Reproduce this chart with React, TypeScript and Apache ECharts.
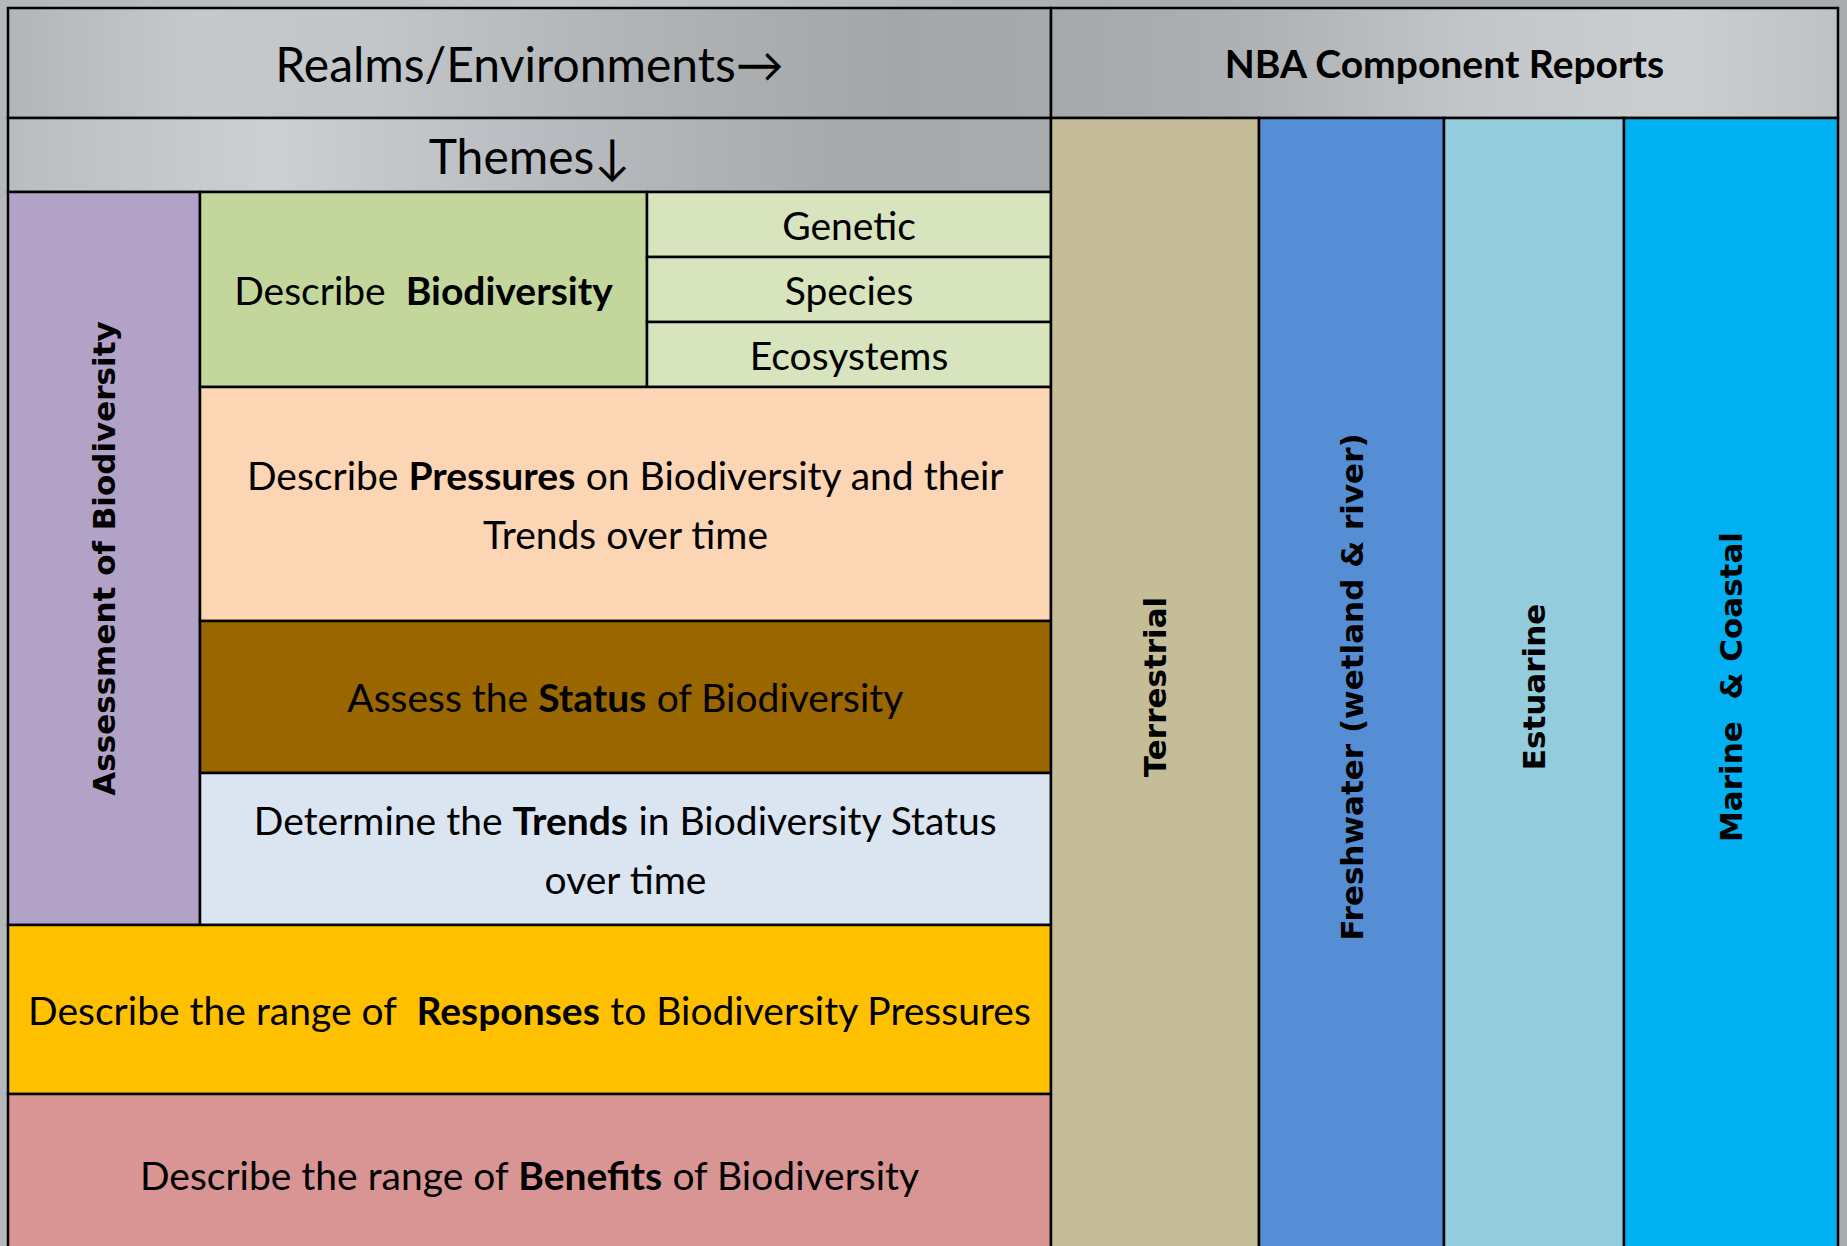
import React, { useEffect, useRef } from "react";
import * as echarts from "echarts";

// ---- Data (labels) ----
const headerLabels = ["Realms/Environments→", "Themes↓", "NBA Component Reports"];
const assessmentLabel = "Assessment of Biodiversity";
const biodiversityLabel = "Describe  {b|Biodiversity}";
const biodiversityLevels = ["Genetic", "Species", "Ecosystems"];
const themeLabels = [
  "Describe {b|Pressures} on Biodiversity and their\nTrends over time",
  "Assess the {b|Status} of Biodiversity",
  "Determine the {b|Trends} in Biodiversity Status\nover time",
];
const outcomeLabels = [
  "Describe the range of  {b|Responses} to Biodiversity Pressures",
  "Describe the range of {b|Benefits} of Biodiversity",
];
const realmLabels = ["Terrestrial", "Freshwater (wetland & river)", "Estuarine", "Marine  & Coastal"];

// ---- Layout (diagram units = px) ----
const W = 1847;
const H = 1246;
const colX = { left: 8, purple: 200, green: 647, mid: 1051, right: 1838 };
const realmEdges = [1051, 1259, 1444, 1624, 1838];
const rowY = { top: 8, head: 118, themes: 192, levels: [192, 257, 322, 387], pressures: 621, status: 773, trends: 925, responses: 1094, bottom: 1256 };

// ---- Styles ----
const themeFills = ["#fcd5b5", "#996600", "#dbe5f1"];
const outcomeFills = ["#ffc000", "#d99594"];
const realmFills = ["#c4bd97", "#558ed5", "#93cddd", "#00b0f0"];
const BODY_FONT = "Lato, 'Noto Sans', sans-serif";
const VERT_FONT = "'DejaVu Sans', sans-serif";
const BODY_SIZE = 39;
const VERT_SIZE = 31;

const grad = (stops: [number, string][]) =>
  new echarts.graphic.LinearGradient(0, 0, 1, 0, stops.map(([offset, color]) => ({ offset, color })));

type Cell = {
  x0: number; y0: number; x1: number; y1: number;
  fill: any; text?: string; size?: number; bold?: boolean; vertical?: boolean; family?: string; lineHeight?: number;
};

function buildCells(): Cell[] {
  const cells: Cell[] = [];
  cells.push({
    x0: colX.left, y0: rowY.top, x1: colX.mid, y1: rowY.head,
    fill: grad([[0, "#b2b6b9"], [0.18, "#c6c9cc"], [0.35, "#c3c6c9"], [0.6, "#b0b4b7"], [0.85, "#a3a7aa"], [1, "#a6aaad"]]),
    text: headerLabels[0], size: 48,
  });
  cells.push({
    x0: colX.left, y0: rowY.head, x1: colX.mid, y1: rowY.themes,
    fill: grad([[0, "#b9bdc0"], [0.25, "#cdd0d3"], [0.5, "#b9bcc0"], [0.8, "#a6aaad"], [1, "#a8acaf"]]),
    text: headerLabels[1], size: 48,
  });
  cells.push({
    x0: colX.mid, y0: rowY.top, x1: colX.right, y1: rowY.head,
    fill: grad([[0, "#a5a9ac"], [0.25, "#adb1b4"], [0.55, "#c3c7ca"], [0.8, "#cbcfd2"], [1, "#bec2c5"]]),
    text: headerLabels[2], size: 39, bold: true,
  });
  // assessment column
  cells.push({
    x0: colX.left, y0: rowY.themes, x1: colX.purple, y1: rowY.trends,
    fill: "#b3a2c7", text: assessmentLabel, size: VERT_SIZE, bold: true, vertical: true, family: VERT_FONT,
  });
  // describe biodiversity
  cells.push({
    x0: colX.purple, y0: rowY.themes, x1: colX.green, y1: rowY.levels[3],
    fill: "#c3d69b", text: biodiversityLabel, size: BODY_SIZE,
  });
  biodiversityLevels.forEach((t, i) => {
    cells.push({
      x0: colX.green, y0: rowY.levels[i], x1: colX.mid, y1: rowY.levels[i + 1],
      fill: "#d7e4bd", text: t, size: BODY_SIZE,
    });
  });
  const themeTops = [rowY.levels[3], rowY.pressures, rowY.status, rowY.trends];
  themeLabels.forEach((t, i) => {
    cells.push({
      x0: colX.purple, y0: themeTops[i], x1: colX.mid, y1: themeTops[i + 1],
      fill: themeFills[i], text: t, size: BODY_SIZE, lineHeight: 59,
    });
  });
  const outTops = [rowY.trends, rowY.responses, rowY.bottom];
  outcomeLabels.forEach((t, i) => {
    cells.push({
      x0: colX.left, y0: outTops[i], x1: colX.mid, y1: outTops[i + 1],
      fill: outcomeFills[i], text: t, size: BODY_SIZE,
    });
  });
  realmLabels.forEach((t, i) => {
    cells.push({
      x0: realmEdges[i], y0: rowY.head, x1: realmEdges[i + 1], y1: rowY.bottom,
      fill: realmFills[i], text: t, size: VERT_SIZE, bold: true, vertical: true, family: VERT_FONT,
    });
  });
  return cells;
}

export default function App() {
  const ref = useRef<HTMLDivElement>(null);
  useEffect(() => {
    document.body.style.margin = "0";
    document.body.style.overflow = "hidden";
    const chart = echarts.init(ref.current!, null, { renderer: "svg" });
    const cells = buildCells();
    chart.setOption({
      animation: false,
      backgroundColor: grad([[0, "#b4b8bb"], [0.3, "#c2c5c8"], [0.6, "#aaaeb1"], [1, "#a9adb0"]]),
      grid: { left: 0, right: 0, top: 0, bottom: 0 },
      xAxis: { type: "value", min: 0, max: W, show: false },
      yAxis: { type: "value", min: 0, max: H, inverse: true, show: false },
      series: [
        {
          type: "custom",
          clip: false,
          data: cells.map((c, i) => [c.x0, c.y0, c.x1, c.y1, i]),
          renderItem: (params: any, api: any) => {
            const c = cells[params.dataIndex];
            const p0 = api.coord([api.value(0), api.value(1)]);
            const p1 = api.coord([api.value(2), api.value(3)]);
            const x = Math.min(p0[0], p1[0]);
            const y = Math.min(p0[1], p1[1]);
            const w = Math.abs(p1[0] - p0[0]);
            const h = Math.abs(p1[1] - p0[1]);
            const children: any[] = [
              {
                type: "rect",
                shape: { x, y, width: w, height: h },
                style: { fill: c.fill, stroke: "#000", lineWidth: 2.5 },
              },
            ];
            if (c.text) {
              const family = c.family || BODY_FONT;
              const lh = c.lineHeight || Math.round((c.size || 35) * 1.3);
              children.push({
                type: "text",
                x: x + w / 2,
                y: y + h / 2,
                rotation: c.vertical ? Math.PI / 2 : 0,
                style: {
                  text: c.text,
                  fill: "#000",
                  fontSize: c.size,
                  fontFamily: family,
                  fontWeight: c.bold ? "bold" : "normal",
                  lineHeight: lh,
                  align: "center",
                  verticalAlign: "middle",
                  textAlign: "center",
                  textVerticalAlign: "middle",
                  rich: {
                    b: { fontSize: c.size, fontFamily: family, fontWeight: "bold", lineHeight: lh, fill: "#000" },
                  },
                },
              });
            }
            return { type: "group", children };
          },
        },
      ],
    });
    return () => chart.dispose();
  }, []);
  return <div ref={ref} style={{ width: W, height: H }} />;
}
